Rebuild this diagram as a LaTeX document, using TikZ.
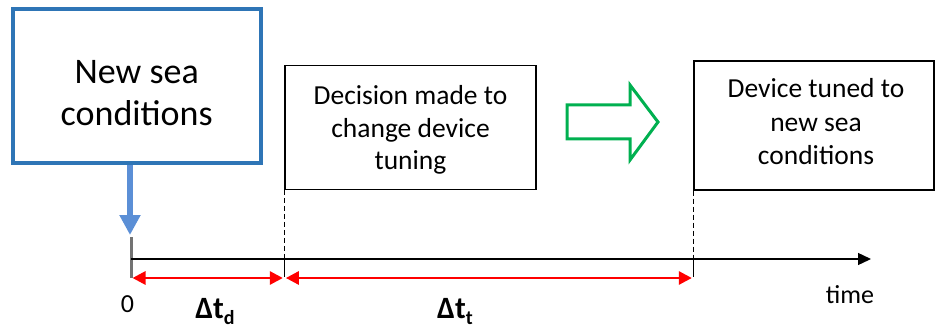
\documentclass[tikz,border=0pt]{standalone}
\usepackage{fontspec}
\setmainfont{Carlito}
\usetikzlibrary{arrows.meta}
\definecolor{boxblue}{HTML}{2E75B6}
\definecolor{arrblue}{HTML}{5B8FD6}
\definecolor{arrgreen}{HTML}{00B050}
\tikzset{
  plainbox/.style={draw=black, line width=1.3pt, inner sep=0pt},
  boxtext/.style={align=center, inner sep=0pt, anchor=north},
  axisline/.style={line width=1.3pt, black},
  redspan/.style={line width=2.8pt, red, {Triangle[length=13pt,width=13pt]}-{Triangle[length=13pt,width=13pt]}},
  dashline/.style={line width=1pt, dashed, dash pattern=on 5pt off 3pt},
  lbl/.style={anchor=base, inner sep=0pt},
}
\begin{document}
\begin{tikzpicture}[x=1pt,y=-1pt]
\useasboundingbox (0,0) rectangle (936,331);
% blue box
\node[draw=boxblue, line width=4pt, minimum width=248.5pt, minimum height=154.5pt, inner sep=0pt] (sea) at (136.75,86.25) {};
\node[boxtext, font=\fontsize{36}{42}\selectfont] (seatext) at (136.75,60.5) {New sea\\conditions};
% decision box
\node[plainbox, minimum width=251pt, minimum height=123.5pt] (dec) at (410.5,127.4) {};
\node[boxtext, font=\fontsize{27.5}{32.5}\selectfont] (dectext) at (410.5,85.3) {Decision made to\\change device\\tuning};
% tuned box
\node[plainbox, minimum width=240pt, minimum height=129pt] (tun) at (814,125.5) {};
\node[boxtext, font=\fontsize{27.5}{33.5}\selectfont] (tuntext) at (816,78.3) {Device tuned to\\new sea\\conditions};
% axis
\coordinate (o) at (131,259);
\coordinate (tend) at (871,259);
\coordinate (ttop) at (131,237);
\coordinate (tbot) at (131,278);
\draw[line width=3pt, black!55] (ttop) -- (tbot);
\draw[axisline, -{Triangle[length=13pt,width=12pt]}] (o) -- (tend);
% blue arrow
\coordinate (bs) at (130,165.5);
\coordinate (be) at (130,235);
\draw[line width=6.5pt, arrblue, -{Triangle[length=20pt,width=20pt]}] (bs) -- (be);
% dashed markers
\coordinate (d1) at (dec.south west |- o);
\coordinate (d2) at (tun.south west |- o);
\coordinate (d1b) at (dec.south west |- tbot);
\coordinate (d2b) at (tun.south west |- tbot);
\draw[dashline] (dec.south west) -- (d1);
\draw[dashline] (tun.south west) -- (d2);
\draw[axisline] (d1) -- ([yshift=1.5pt]d1b);
\draw[axisline] (d2) -- ([yshift=1.5pt]d2b);
% red spans
\draw[redspan] ([xshift=1.5pt]tbot) -- ([xshift=-1.5pt]d1b);
\draw[redspan] ([xshift=1.5pt]d1b) -- ([xshift=-1.5pt]d2b);
% green hollow arrow
\draw[arrgreen, line width=3pt, line join=miter]
  (567,105) -- (630,105) -- (630,85) -- (658,122) -- (630,160) -- (630,139) -- (567,139) -- cycle;
% labels
\node[lbl, font=\fontsize{26}{30}\selectfont] (zero) at (127.5,312) {0};
\node[lbl, font=\bfseries\fontsize{31}{36}\selectfont] (tdl) at (215,318) {Δt\raisebox{-6pt}{\fontsize{20}{24}\selectfont d}};
\node[lbl, font=\bfseries\fontsize{31}{36}\selectfont] (ttl) at (455,318) {Δt\raisebox{-6pt}{\fontsize{20}{24}\selectfont t}};
\node[lbl, font=\fontsize{26}{30}\selectfont] (time) at (850,303) {time};
\end{tikzpicture}
\end{document}
